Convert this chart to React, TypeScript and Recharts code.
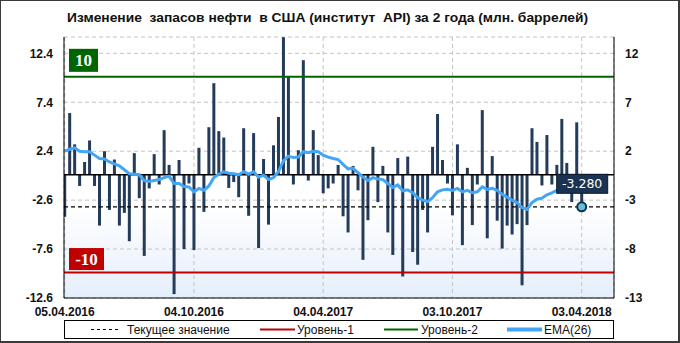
import React from 'react';
import { ComposedChart, Bar, Line, XAxis, YAxis, CartesianGrid, ReferenceLine } from 'recharts';

const titleText = 'Изменение  запасов нефти  в США (институт  API) за 2 года (млн. баррелей)';

// weekly changes (mln barrels), 05.04.2016 .. 03.04.2018
const changes = [
  -4.3, 6.3, 3.1, -1.15, 1.3, 3.5, -1.15, -5.2, 2.4, -3.6,
  1.55, -5.2, -3.9, -6.8, 2.2, -2.4, -8.3, -1.4, 2.1, -1.0,
  4.55, 1.0, -12.2, 1.5, -7.6, -0.9, -7.7, 2.75, -3.8, 4.85,
  9.35, 4.45, 3.8, -1.35, -0.75, -2.3, 4.75, -4.2, 4.25, -7.5,
  1.6, -5.1, 3.0, 5.9, 14.05, 10.0, -1.0, 2.5, 11.7, -0.6,
  4.55, 2.0, -1.9, -1.4, -0.9, 1.0, -4.25, -5.9, 0.9, -1.6,
  -8.7, -4.65, 2.85, -2.8, 0.9, -5.9, -8.2, 1.7, -10.4, 1.85,
  -7.9, -9.2, -3.6, -5.9, 2.85, 6.2, 1.5, -0.9, -4.15, 3.1,
  -7.2, 0.7, -5.15, -1.0, 6.6, -6.5, 1.9, -4.7, -7.55, -5.2,
  -6.1, -5.05, -11.3, -5.15, 4.75, 3.35, -1.1, 4.05, -1.0, 1.0,
  5.7, 1.2, -2.8, 5.35, -3.28,
];

const ema26 = [
  2.4, 2.6, 2.75, 2.4, 2.35, 2.35, 2.0, 1.65, 1.6, 1.3,
  1.1, 0.9, 0.5, 0.1, 0.05, 0.0, -0.6, -0.7, -0.6, -0.5,
  -0.3, -0.15, -0.9, -0.9, -1.2, -1.25, -1.75, -1.4, -1.6, -1.15,
  -0.3, 0.05, 0.3, 0.15, 0.1, 0.0, 0.3, 0.05, 0.3, -0.25,
  -0.05, -0.5, -0.3, 0.3, 1.4, 1.9, 1.75, 1.8, 2.35, 2.25,
  2.4, 2.35, 2.0, 1.8, 1.65, 1.55, 1.05, 0.6, 0.65, 0.2,
  -0.25, -0.6, -0.3, -0.45, -0.5, -0.9, -1.3, -1.05, -1.65, -1.55,
  -1.85, -2.35, -2.6, -2.75, -2.35, -1.75, -1.55, -1.5, -1.6, -1.4,
  -1.75, -1.6, -1.85, -1.75, -1.25, -1.5, -1.4, -1.6, -2.0, -2.3,
  -2.6, -2.85, -3.35, -3.55, -2.85, -2.5, -2.4, -2.05, -1.85, -1.6,
  -1.4, -1.3, -1.35, -1.15, -1.25,
];

const currentValue = -3.28;
const level1 = -10;
const level2 = 10;

const dateTicks = [0, 26, 52, 78, 104];
const dateLabels = ['05.04.2016', '04.10.2016', '04.04.2017', '03.10.2017', '03.04.2018'];
const valueTicks = [12.4, 7.4, 2.4, -2.6, -7.6, -12.6];

const legendItems = ['Текущее значение', 'Уровень-1', 'Уровень-2', 'EMA(26)'];

const data = changes.map((v, i) => ({
  i,
  v,
  ema: ema26[i],
  cur: i === changes.length - 1 ? currentValue : null,
}));

const X_DOMAIN: [number, number] = [-0.14, 110.5];
const Y_DOMAIN: [number, number] = [-12.6, 14.07];

const FONT = '"Liberation Sans", Arial, sans-serif';
const BAR = '#243b5a';
const GREEN = '#006400';
const RED = '#c00000';
const BLUE = '#42a5f5';

const levelLabel = (text: string, fill: string, w: number, h: number, gap: number) => (props: any) => {
  const vb = props.viewBox || {};
  const x = (vb.x || 0) + 5;
  const y = (vb.y || 0) - gap - h;
  return (
    <g>
      <rect x={x} y={y} width={w} height={h} fill={fill} />
      <text
        x={x + w / 2}
        y={y + h / 2 + 6}
        textAnchor="middle"
        fill="#fff"
        fontFamily='"Liberation Serif", "Times New Roman", serif'
        fontWeight="bold"
        fontSize={17}
      >
        {text}
      </text>
    </g>
  );
};

const CurrentDot = (props: any) => {
  const { cx, cy, value, index } = props;
  if (value === null || value === undefined || cx == null || cy == null || isNaN(cy)) {
    return <g key={`d${index}`} />;
  }
  return (
    <g key={`d${index}`}>
      <rect x={cx - 25} y={cy - 32.5} width={51} height={19} fill="#1b3352" stroke="#0b1a2c" strokeWidth={1} />
      <text
        x={cx + 0.5}
        y={cy - 18.5}
        textAnchor="middle"
        fill="#ffffff"
        fontFamily='"DejaVu Sans", sans-serif'
        fontSize={12.5}
      >
        {Number(value).toFixed(3)}
      </text>
      <circle cx={cx} cy={cy} r={4.5} fill="#62bfd8" stroke="#15304f" strokeWidth={2} />
    </g>
  );
};

export default function App() {
  return (
    <div style={{ position: 'absolute', left: 0, top: 0, width: 680, height: 343, background: '#fff' }}>
      <div style={{ position: 'absolute', left: 0, top: 0 }}>
        <ComposedChart
          width={680}
          height={343}
          data={data}
          margin={{ top: 37, right: 0, left: 0, bottom: 25 }}
        >
          <defs>
            <linearGradient id="plotBg" x1="0" y1="0" x2="0" y2="1">
              <stop offset="0" stopColor="#ffffff" />
              <stop offset="0.65" stopColor="#ffffff" />
              <stop offset="1" stopColor="#e4eefb" />
            </linearGradient>
          </defs>
          <CartesianGrid
            stroke="#c4c4c4"
            strokeDasharray="4 3"
            fill="url(#plotBg)"
            fillOpacity={1}
          />
          <XAxis
            dataKey="i"
            type="number"
            domain={X_DOMAIN}
            allowDataOverflow
            ticks={dateTicks}
            interval={0}
            tickFormatter={(v: number) => dateLabels[dateTicks.indexOf(v)] ?? ''}
            height={20}
            tickLine={false}
            tickMargin={3}
            axisLine={{ stroke: '#000' }}
            tick={{ fill: '#111', fontSize: 12, fontWeight: 'bold', fontFamily: FONT }}
          />
          <XAxis
            xAxisId="T"
            dataKey="i"
            type="number"
            orientation="top"
            domain={X_DOMAIN}
            allowDataOverflow
            height={0}
            tick={false}
            tickLine={false}
            axisLine={{ stroke: '#000' }}
          />
          <YAxis
            type="number"
            domain={Y_DOMAIN}
            allowDataOverflow
            ticks={valueTicks}
            interval={0}
            width={64}
            tickLine={false}
            tickMargin={5}
            tickFormatter={(v: number) => v.toFixed(1)}
            axisLine={{ stroke: '#000' }}
            tick={{ fill: '#111', fontSize: 12, fontWeight: 'bold', fontFamily: FONT }}
          />
          <YAxis
            yAxisId="R"
            orientation="right"
            type="number"
            domain={Y_DOMAIN}
            allowDataOverflow
            ticks={valueTicks}
            interval={0}
            width={66}
            tickLine={false}
            tickMargin={5}
            tickFormatter={(v: number) => String(Math.round(v))}
            axisLine={{ stroke: '#000' }}
            tick={{ fill: '#111', fontSize: 12, fontWeight: 'bold', fontFamily: FONT }}
          />
          <ReferenceLine y={currentValue} stroke="#000" strokeWidth={1.2} strokeDasharray="4 3" />
          <ReferenceLine
            y={level2}
            stroke={GREEN}
            strokeWidth={2}
            label={levelLabel(String(level2), GREEN, 29, 23, 5)}
          />
          <ReferenceLine
            y={level1}
            stroke={RED}
            strokeWidth={2}
            label={levelLabel(String(level1), RED, 35, 22, 2.5)}
          />
          <Bar dataKey="v" fill={BAR} barSize={3} isAnimationActive={false} />
          <ReferenceLine y={0} stroke="#000" strokeWidth={1.5} />
          <Line
            dataKey="ema"
            type="linear"
            stroke={BLUE}
            strokeWidth={3}
            dot={false}
            activeDot={false}
            isAnimationActive={false}
          />
          <Line
            dataKey="cur"
            stroke="none"
            dot={CurrentDot}
            activeDot={false}
            isAnimationActive={false}
          />
        </ComposedChart>
      </div>
      <svg
        width={680}
        height={343}
        style={{ position: 'absolute', left: 0, top: 0, pointerEvents: 'none' }}
      >
        <rect x={0.5} y={0.5} width={678} height={341} fill="none" stroke="#3a3a3a" strokeWidth={1} />
        <line x1={679.5} y1={0} x2={679.5} y2={343} stroke="#3a3a3a" />
        <line x1={0} y1={342.5} x2={680} y2={342.5} stroke="#3a3a3a" />
        <text
          x={327.5}
          y={22}
          textAnchor="middle"
          fontFamily={FONT}
          fontWeight="bold"
          fontSize={13}
          fill="#111"
          textLength={521}
          lengthAdjust="spacingAndGlyphs"
          style={{ whiteSpace: 'pre' }}
        >
          {titleText}
        </text>
        <rect x={64.5} y={320.5} width={549} height={18} fill="none" stroke="#000" />
        <line x1={91} x2={121} y1={329.5} y2={329.5} stroke="#000" strokeDasharray="3 3" />
        <text x={127} y={334} fontFamily={FONT} fontSize={12} fill="#111">{legendItems[0]}</text>
        <line x1={260} x2={295} y1={329.5} y2={329.5} stroke={RED} strokeWidth={2} />
        <text x={297} y={334} fontFamily={FONT} fontSize={12} fill="#111">{legendItems[1]}</text>
        <line x1={384} x2={418} y1={329.5} y2={329.5} stroke={GREEN} strokeWidth={2} />
        <text x={421} y={334} fontFamily={FONT} fontSize={12} fill="#111">{legendItems[2]}</text>
        <line x1={507} x2={542} y1={329.5} y2={329.5} stroke={BLUE} strokeWidth={4} />
        <text x={544} y={334} fontFamily={FONT} fontSize={12} fill="#111">{legendItems[3]}</text>
      </svg>
    </div>
  );
}
